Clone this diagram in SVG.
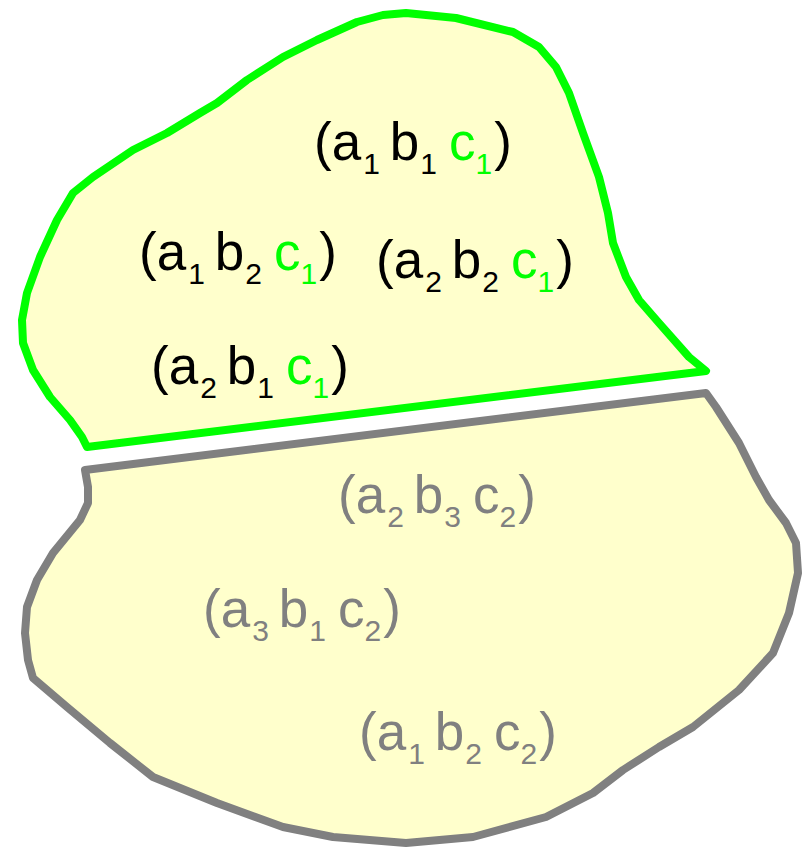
<svg xmlns="http://www.w3.org/2000/svg" width="812" height="847" viewBox="0 0 812 847">
<style>
.region{fill:#ffffcc;stroke-width:8;stroke-linejoin:round}
.g{stroke:#00ff00}
.k{stroke:#808080}
text{font-family:"Liberation Sans",Arial,sans-serif;font-size:53px}
.blk{fill:#000}
.gry{fill:#808080}
.grn{fill:#00ff00}
.sub{font-size:30px}
</style>
<rect width="812" height="847" fill="#fff"/>
<g id="top-region">
<path class="region g" d="M87,447 L82,437 L70,420 L50,397 L33,370 L23,343 L22,320 L27,293 L40,257 L57,220 L73,193 L93,177 L133,150 L167,133 L200,113 L217,103 L247,80 L283,57 L317,40 L357,22 L383,15 L406,13 L456,18 L513,32 L539,47 L556,67 L569,93 L583,133 L599,177 L608,213 L613,243 L626,277 L639,300 L659,323 L689,357 L706,371 Z"/>
</g>
<g id="bottom-region">
<path class="region k" d="M85,470 L88,487 L88,503 L80,520 L53,553 L37,580 L27,607 L25,633 L28,660 L33,678 L67,707 L110,743 L153,777 L217,803 L283,827 L333,837 L406,843 L473,837 L546,817 L593,793 L623,770 L659,747 L693,727 L739,690 L773,653 L789,613 L798,573 L796,543 L786,523 L769,500 L756,477 L739,443 L716,407 L706,393 Z"/>
</g>
<g id="t1"><text class="blk" x="314" y="160">(a<tspan class="sub" dx="2" dy="14">1</tspan><tspan dx="10" dy="-14">b</tspan><tspan class="sub" dx="1" dy="14">1</tspan><tspan class="grn" dx="12" dy="-14">c</tspan><tspan class="sub grn" dy="14">1</tspan><tspan dx="2" dy="-14">)</tspan></text></g>
<g id="t2"><text class="blk" x="139" y="270">(a<tspan class="sub" dx="2" dy="14">1</tspan><tspan dx="10" dy="-14">b</tspan><tspan class="sub" dx="1" dy="14">2</tspan><tspan class="grn" dx="12" dy="-14">c</tspan><tspan class="sub grn" dy="14">1</tspan><tspan dx="2" dy="-14">)</tspan></text></g>
<g id="t3"><text class="blk" x="376" y="278">(a<tspan class="sub" dx="2" dy="14">2</tspan><tspan dx="10" dy="-14">b</tspan><tspan class="sub" dx="1" dy="14">2</tspan><tspan class="grn" dx="12" dy="-14">c</tspan><tspan class="sub grn" dy="14">1</tspan><tspan dx="2" dy="-14">)</tspan></text></g>
<g id="t4"><text class="blk" x="151" y="384">(a<tspan class="sub" dx="2" dy="14">2</tspan><tspan dx="10" dy="-14">b</tspan><tspan class="sub" dx="1" dy="14">1</tspan><tspan class="grn" dx="12" dy="-14">c</tspan><tspan class="sub grn" dy="14">1</tspan><tspan dx="2" dy="-14">)</tspan></text></g>
<g id="t5"><text class="gry" x="338" y="513">(a<tspan class="sub" dx="2" dy="14">2</tspan><tspan dx="10" dy="-14">b</tspan><tspan class="sub" dx="1" dy="14">3</tspan><tspan dx="12" dy="-14">c</tspan><tspan class="sub" dy="14">2</tspan><tspan dx="2" dy="-14">)</tspan></text></g>
<g id="t6"><text class="gry" x="203" y="627">(a<tspan class="sub" dx="2" dy="14">3</tspan><tspan dx="10" dy="-14">b</tspan><tspan class="sub" dx="1" dy="14">1</tspan><tspan dx="12" dy="-14">c</tspan><tspan class="sub" dy="14">2</tspan><tspan dx="2" dy="-14">)</tspan></text></g>
<g id="t7"><text class="gry" x="359" y="750">(a<tspan class="sub" dx="2" dy="14">1</tspan><tspan dx="10" dy="-14">b</tspan><tspan class="sub" dx="1" dy="14">2</tspan><tspan dx="12" dy="-14">c</tspan><tspan class="sub" dy="14">2</tspan><tspan dx="2" dy="-14">)</tspan></text></g>
<g id="connectors"></g>
</svg>
